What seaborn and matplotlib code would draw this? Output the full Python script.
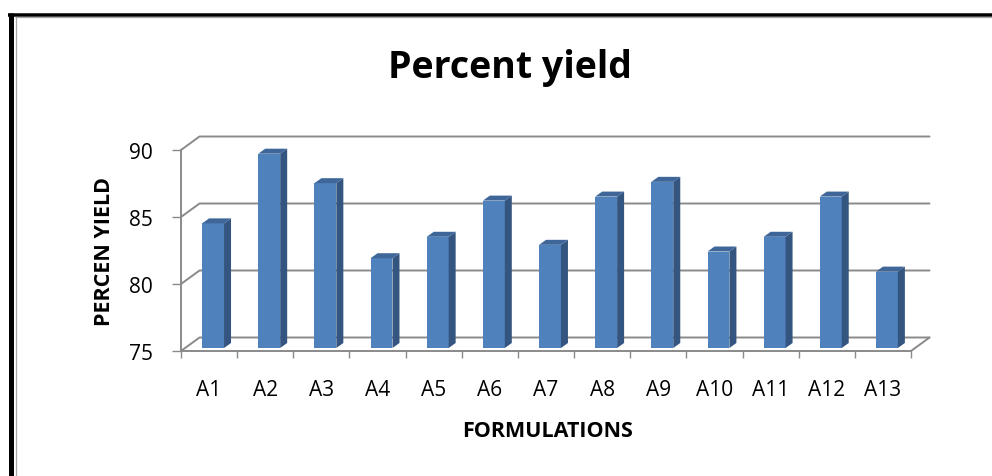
import numpy as np
import pandas as pd
import matplotlib
matplotlib.use("Agg")
import matplotlib.pyplot as plt
from matplotlib.patches import Polygon
from matplotlib.lines import Line2D
import seaborn as sns

# ---- data ----
formulations = ["A1", "A2", "A3", "A4", "A5", "A6", "A7",
                "A8", "A9", "A10", "A11", "A12", "A13"]
percent_yield = [84.3, 89.5, 87.3, 81.7, 83.3, 86.0, 82.7,
                 86.3, 87.4, 82.2, 83.3, 86.3, 80.7]
y_ticks = [75, 80, 85, 90]

title = "Percent yield"
x_label = "FORMULATIONS"
y_label = "PERCEN YIELD"

# ---- style ----
sns.set_style("white")
plt.rcParams["font.family"] = ["Open Sans", "DejaVu Sans"]
plt.rcParams["text.color"] = "black"

W, H, DPI = 992, 477, 100
fig = plt.figure(figsize=(W / DPI, H / DPI), dpi=DPI)
fig.patch.set_facecolor("white")


def fx(x):
    return x / W


def fy(y):
    return 1 - y / H


# front plane of the 3-D box, in pixels
left_px, right_px, top_px, bottom_px = 181, 911, 151, 352
ax = fig.add_axes([fx(left_px), fy(bottom_px),
                   (right_px - left_px) / W, (bottom_px - top_px) / H])

df = pd.DataFrame({"formulation": formulations, "yield": percent_yield})

front_col = "#4f81bd"
side_col = "#34557f"
top_col = "#3e6699"
grid_col = "#8a8a8a"

sns.barplot(data=df, x="formulation", y="yield", color=front_col,
            saturation=1, width=0.39, edgecolor="none", ax=ax, zorder=3)

n = len(formulations)
ymin, ymax = y_ticks[0], y_ticks[-1]
ax.set_xlim(-0.5, n - 0.5)
ax.set_ylim(ymin, ymax)

# pixel -> data unit conversions for the oblique depth offsets
ux = (right_px - left_px) / n
uy = (bottom_px - top_px) / (ymax - ymin)


def depth(dx_px, dy_px):
    return dx_px / ux, dy_px / uy


wall_dx, wall_dy = depth(18.5, 13.5)
bar_dx, bar_dy = depth(4, 3)
deep_dx, deep_dy = depth(7, 5)

# back wall gridlines, side diagonals and floor outline
for v in y_ticks:
    ax.add_line(Line2D([-0.5, -0.5 + wall_dx, n - 0.5 + wall_dx],
                       [v, v + wall_dy, v + wall_dy],
                       color=grid_col, lw=1.4, clip_on=False, zorder=1))
ax.add_line(Line2D([n - 0.5, n - 0.5 + wall_dx], [ymin, ymin + wall_dy],
                   color=grid_col, lw=1.4, clip_on=False, zorder=1))

# 3-D bars: shift front faces into depth, then add side and top faces
for patch in list(ax.patches):
    v = patch.get_height()
    xl = patch.get_x() + bar_dx
    w = patch.get_width()
    xr = xl + w
    base = ymin + bar_dy
    top = v + bar_dy
    patch.set_x(xl)
    patch.set_y(base)
    patch.set_height(v - ymin)
    patch.set_clip_on(False)
    side = Polygon([(xr, base), (xr + deep_dx, base + deep_dy),
                    (xr + deep_dx, top + deep_dy), (xr, top)],
                   closed=True, facecolor=side_col, edgecolor="none",
                   clip_on=False, zorder=3)
    cap = Polygon([(xl, top), (xl + deep_dx, top + deep_dy),
                   (xr + deep_dx, top + deep_dy), (xr, top)],
                  closed=True, facecolor=top_col, edgecolor="none",
                  clip_on=False, zorder=3)
    ax.add_patch(side)
    ax.add_patch(cap)

# axes lines and ticks
for s in ["top", "right"]:
    ax.spines[s].set_visible(False)
for s in ["left", "bottom"]:
    ax.spines[s].set_color(grid_col)
    ax.spines[s].set_linewidth(1.4)

ax.set_yticks(y_ticks)
ax.tick_params(axis="y", which="major", left=True, length=6.5, width=1.0,
               color=grid_col, pad=13.5, labelsize=15, labelcolor="black")
ax.set_xticks(np.arange(-0.5, n, 1.0), minor=True)
ax.tick_params(axis="x", which="minor", bottom=True, length=5, width=1.0,
               color=grid_col)
ax.tick_params(axis="x", which="major", bottom=True, length=0, pad=20,
               labelsize=15, labelcolor="black")
ax.set_xlabel("")
ax.set_ylabel("")
ax.set_facecolor("none")

# titles
fig.text(fx(510), fy(78), title, ha="center", va="baseline",
         fontsize=27, fontweight="bold", color="black")
fig.text(fx(548), fy(437), x_label, ha="center", va="baseline",
         fontsize=15.5, fontweight="bold", color="black")
fig.text(fx(110), fy(252), y_label, ha="center", va="baseline",
         rotation=90, rotation_mode="anchor", fontsize=15.5,
         fontweight="bold", color="black")

# outer frame
fig.add_artist(Line2D([fx(10.5), fx(10.5)], [0, fy(14)], color="black",
                      lw=5 * 0.72, solid_capstyle="butt"))
fig.add_artist(Line2D([fx(8), 1], [fy(15.5), fy(15.5)], color="black",
                      lw=3.5 * 0.72, solid_capstyle="butt"))
fig.add_artist(Line2D([fx(15.5), fx(15.5)], [0, fy(18)], color="#a6a6a6",
                      lw=0.9, solid_capstyle="butt"))
fig.add_artist(Line2D([fx(15), 1], [fy(18.3), fy(18.3)], color="#a6a6a6",
                      lw=0.9, solid_capstyle="butt"))

fig.savefig("out.png", dpi=DPI, facecolor="white")
